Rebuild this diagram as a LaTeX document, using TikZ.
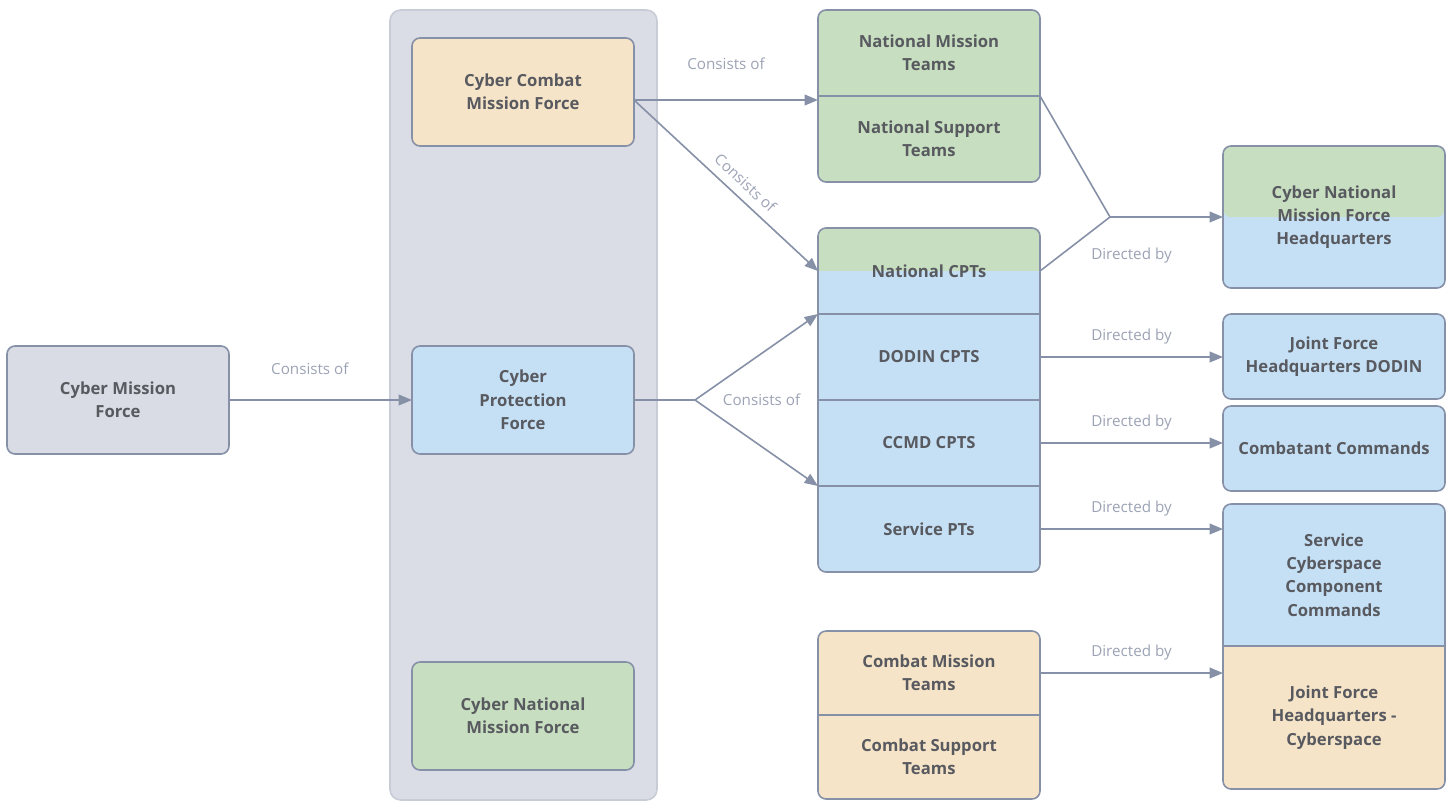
\documentclass[tikz,border=0pt]{standalone}
\usepackage{fontspec}
\setmainfont{Open Sans}
\usetikzlibrary{arrows.meta,positioning}
\definecolor{edgegray}{HTML}{8690A6}
\definecolor{contgray}{HTML}{DADDE5}
\definecolor{contline}{HTML}{C8CCD7}
\definecolor{cmfgray}{HTML}{D9DCE4}
\definecolor{peach}{HTML}{F6E4C8}
\definecolor{cpfblue}{HTML}{C5E0F5}
\definecolor{nmfgreen}{HTML}{C7DFC0}
\definecolor{textgray}{HTML}{585A60}
\definecolor{lblgray}{HTML}{9CA3B5}

\begin{document}
\begin{tikzpicture}[x=0.75pt,y=-0.75pt,>={Triangle[length=10pt,width=8pt]},
		line width=1.2pt, font=\bfseries\fontsize{12.5}{17.5}\selectfont, text=textgray]
		\tikzstyle{box}=[draw=edgegray, rounded corners=6pt, minimum width=166.5pt,
			minimum height=81pt, align=center, inner sep=0pt, outer sep=0pt]
		\tikzstyle{row}=[draw=edgegray, minimum width=166.5pt, minimum height=64.5pt,
			align=center, inner sep=0pt, outer sep=0pt]
		\tikzstyle{halfgreen}=[path picture={\fill[nmfgreen] (path picture bounding box.north west)
			rectangle (path picture bounding box.east);}]
		\tikzstyle{link}=[->, draw=edgegray]
		\tikzstyle{lbl}=[font=\mdseries\fontsize{11.4}{12}\selectfont, text=lblgray]
		
		\useasboundingbox (0,0) rectangle (1452,801);
		
		% container of the three forces
		\filldraw[fill=contgray, draw=contline, rounded corners=8pt] (390,10) rectangle (657,800);
		
		\node[box, fill=cmfgray] 	(cmf)	at (118,400)	{Cyber Mission\\Force};
		\node[box, fill=peach] 		(ccmf)	at (523,92)		{Cyber Combat\\Mission Force};
		\node[box, fill=cpfblue] 	(cpf)	at (523,400)	{Cyber\\Protection\\Force};
		\node[box, fill=nmfgreen] 	(cnmf)	at (523,716)	{Cyber National\\Mission Force};
		
		% national teams
		\begin{scope}
			\clip[rounded corners=6pt] (818,10) rectangle (1040,182);
			\node[row, fill=nmfgreen] 	(nmt)	at (929,53)			{National Mission\\Teams};
			\node[row, fill=nmfgreen] 	(nst)	[below=0pt of nmt] 	{National Support\\Teams};
		\end{scope}
		\draw[edgegray, rounded corners=6pt] (818,10) rectangle (1040,182);
		
		% protection teams
		\begin{scope}
			\clip[rounded corners=6pt] (818,228) rectangle (1040,572);
			\node[row, fill=cpfblue, halfgreen] (ncpt)	at (929,271)		{National CPTs};
			\node[row, fill=cpfblue] 	(dodin)	[below=0pt of ncpt] 	{DODIN CPTS};
			\node[row, fill=cpfblue] 	(ccmd)	[below=0pt of dodin] 	{CCMD CPTS};
			\node[row, fill=cpfblue] 	(spt)	[below=0pt of ccmd] 	{Service PTs};
		\end{scope}
		\draw[edgegray, rounded corners=6pt] (818,228) rectangle (1040,572);
		
		% combat teams
		\begin{scope}
			\clip[rounded corners=6pt] (818,631) rectangle (1040,799);
			\node[row, fill=peach, minimum height=63pt] (cmt)	at (929,673)	{Combat Mission\\Teams};
			\node[row, fill=peach, minimum height=63pt] (cst)	[below=0pt of cmt] 	{Combat Support\\Teams};
		\end{scope}
		\draw[edgegray, rounded corners=6pt] (818,631) rectangle (1040,799);
		
		% commands
		\node[box, fill=cpfblue, halfgreen, minimum height=106.5pt] (hq) at (1334,217)
			{Cyber National\\Mission Force\\Headquarters};
		\node[box, fill=cpfblue, minimum height=63.75pt] (jfdodin)	at (1334,356.5)
			{Joint Force\\Headquarters DODIN};
		\node[box, fill=cpfblue, minimum height=63.75pt] (cc)	at (1334,448.5)
			{Combatant Commands};
		\begin{scope}
			\clip[rounded corners=6pt] (1223,504) rectangle (1445,789);
			\node[row, fill=cpfblue, minimum height=106.5pt] (sccc)	at (1334,575)
				{Service\\Cyberspace\\Component\\Commands};
			\node[row, fill=peach, minimum height=107.25pt] (jfhqc)	[below=0pt of sccc]
				{Joint Force\\Headquarters -\\Cyberspace};
		\end{scope}
		\draw[edgegray, rounded corners=6pt] (1223,504) rectangle (1445,789);
		
		% consists of
		\draw[link] (cmf.east) -- node[lbl, above=15pt, xshift=-8pt] {Consists of} (cpf.west);
		\draw[link] ([yshift=-6pt]ccmf.east) -- node[lbl, above=19pt] {Consists of}
			([yshift=-3pt]nmt.south west);
		\draw[link] ([yshift=-6pt]ccmf.east) -- node[lbl, sloped, above=3pt, pos=0.55] {Consists of}
			(ncpt.west);
		\coordinate (cpfjoin) at (695,400);
		\draw[edgegray] (cpf.east) -- (cpfjoin) node[lbl, right=17pt] {Consists of};
		\draw[link] (cpfjoin) -- (ncpt.south west);
		\draw[link] (cpfjoin) -- (ccmd.south west);
		
		% directed by
		\coordinate (hqjoin) at (1110,217);
		\draw[edgegray] (nmt.south east) -- (hqjoin);
		\draw[edgegray] (ncpt.east) -- (hqjoin);
		\draw[link] (hqjoin) -- node[lbl, pos=0.19, below=19pt] {Directed by} (hq.west);
		\draw[link] (dodin.east) -- node[lbl, above=6pt] {Directed by} (dodin.east -| jfdodin.west);
		\draw[link] (ccmd.east) -- node[lbl, above=6pt] {Directed by} (ccmd.east -| cc.west);
		\draw[link] (spt.east) -- node[lbl, above=6pt] {Directed by} (spt.east -| sccc.west);
		\draw[link] (cmt.east) -- node[lbl, above=6pt] {Directed by} (cmt.east -| jfhqc.west);
\end{tikzpicture}
\end{document}
